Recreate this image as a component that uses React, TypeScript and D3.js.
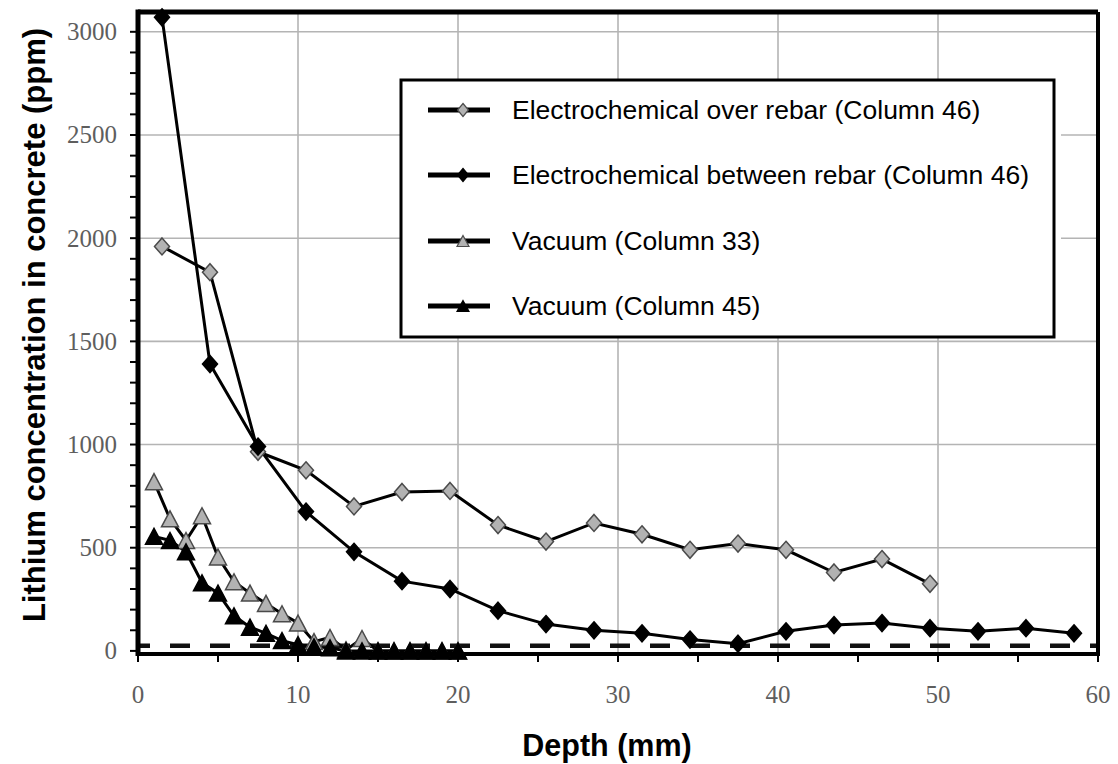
import React from "react";
import * as d3 from "d3";

const depthElectro = [1.5, 4.5, 7.5, 10.5, 13.5, 16.5, 19.5, 22.5, 25.5, 28.5, 31.5, 34.5, 37.5, 40.5, 43.5, 46.5, 49.5, 52.5, 55.5, 58.5];
const overRebar = [1960, 1835, 965, 875, 700, 770, 775, 610, 530, 620, 565, 490, 520, 490, 380, 445, 325];
const betweenRebar = [3070, 1390, 990, 675, 480, 338, 300, 195, 130, 100, 85, 55, 35, 95, 125, 135, 110, 95, 110, 85];

const depthVacuum = [1, 2, 3, 4, 5, 6, 7, 8, 9, 10, 11, 12, 13, 14, 15, 16, 17, 18, 19, 20];
const vacuum33 = [820, 640, 535, 655, 455, 335, 280, 230, 180, 135, 45, 65, 5, 60, 0, 0, 0, 0, 0, 0];
const vacuum45 = [555, 535, 480, 330, 280, 170, 115, 85, 50, 30, 20, 15, 0, 0, 0, 0, 0, 0, 0, 0];

const detectionLimit = 25;

const xTicks = [0, 10, 20, 30, 40, 50, 60];
const yTicks = [0, 500, 1000, 1500, 2000, 2500, 3000];

const legendLabels = [
  "Electrochemical over rebar (Column 46)",
  "Electrochemical between rebar (Column 46)",
  "Vacuum (Column 33)",
  "Vacuum (Column 45)",
];

const W = 1118;
const H = 764;
const L = 138, R = 1098, T = 12, B = 654;

const x = d3.scaleLinear().domain([0, 60]).range([L, R]);
const y = d3.scaleLinear().domain([-15, 3096]).range([B, T]);

const diamond = (cx: number, cy: number, hw: number, hh: number) =>
  `M${cx},${cy - hh}L${cx + hw},${cy}L${cx},${cy + hh}L${cx - hw},${cy}Z`;
const triangle = (cx: number, cy: number, hw: number, hh: number) =>
  `M${cx},${cy - hh}L${cx + hw},${cy + hh}L${cx - hw},${cy + hh}Z`;

const GRAY = "#b2b2b2";
const MSTROKE = "#4a4a4a";

export default function App() {
  const line = d3.line<[number, number]>().x((d) => x(d[0])).y((d) => y(d[1]));
  const pairs = (xs: number[], ys: number[]) => ys.map((v, i) => [xs[i], v] as [number, number]);

  const s1 = pairs(depthElectro, overRebar);
  const s2 = pairs(depthElectro, betweenRebar);
  const s3 = pairs(depthVacuum, vacuum33);
  const s4 = pairs(depthVacuum, vacuum45);

  const yMinor = d3.range(0, 3001, 100);
  const xMinor = d3.range(0, 61, 5);

  const legendY = [110, 175, 241, 306];

  return (
    <svg
      width={W}
      height={H}
      style={{ position: "absolute", left: 0, top: 0, background: "#fff" }}
      fontFamily="'Liberation Sans', Arial, sans-serif"
    >
      <rect x={0} y={0} width={W} height={H} fill="#fff" />
      {/* grid */}
      {xTicks.slice(1, -1).map((t) => (
        <line key={"gx" + t} x1={x(t)} x2={x(t)} y1={T} y2={B} stroke="#b4b4b4" strokeWidth={1.6} />
      ))}
      {yTicks.slice(1).map((t) => (
        <line key={"gy" + t} x1={L} x2={R} y1={y(t)} y2={y(t)} stroke="#b4b4b4" strokeWidth={1.6} />
      ))}

      {/* detection limit dashed line */}
      <line
        x1={L}
        x2={R}
        y1={y(detectionLimit)}
        y2={y(detectionLimit)}
        stroke="#111"
        strokeWidth={4.5}
        strokeDasharray="20 20"
        strokeDashoffset={8}
      />

      {/* legend box background */}
      <rect x={401} y={80} width={660} height={257} fill="#fff" />

      {/* series lines */}
      <path d={line(s1) || ""} fill="none" stroke="#000" strokeWidth={3} />
      <path d={line(s2) || ""} fill="none" stroke="#000" strokeWidth={3} />
      <path d={line(s3) || ""} fill="none" stroke="#000" strokeWidth={3} />
      <path d={line(s4) || ""} fill="none" stroke="#000" strokeWidth={3} />

      {/* markers */}
      {s1.map((d, i) => (
        <path key={"m1" + i} d={diamond(x(d[0]), y(d[1]), 7.5, 8.5)} fill={GRAY} stroke={MSTROKE} strokeWidth={1.5} />
      ))}
      {s2.map((d, i) => (
        <path key={"m2" + i} d={diamond(x(d[0]), y(d[1]), 7.5, 8.5)} fill="#000" stroke="#000" strokeWidth={1.5} />
      ))}
      {s3.map((d, i) => (
        <path key={"m3" + i} d={triangle(x(d[0]), y(d[1]), 8.5, 8)} fill={GRAY} stroke={MSTROKE} strokeWidth={1.5} />
      ))}
      {s4.map((d, i) => (
        <path key={"m4" + i} d={triangle(x(d[0]), y(d[1]), 8.5, 8)} fill="#000" stroke="#000" strokeWidth={1.5} />
      ))}

      {/* frame */}
      <line x1={L} x2={R} y1={T} y2={T} stroke="#000" strokeWidth={5} />
      <line x1={R} x2={R} y1={T} y2={B} stroke="#000" strokeWidth={4} />
      <line x1={L} x2={R + 2} y1={B} y2={B} stroke="#000" strokeWidth={4} />
      <line x1={L} x2={L} y1={T - 2.5} y2={B + 2} stroke="#000" strokeWidth={5} />

      {/* ticks */}
      {yMinor.map((t) => (
        <line key={"ty" + t} x1={L - 8} x2={L} y1={y(t)} y2={y(t)} stroke="#000" strokeWidth={2} />
      ))}
      {xMinor.map((t) => (
        <line key={"tx" + t} x1={x(t)} x2={x(t)} y1={B} y2={B + 8} stroke="#000" strokeWidth={2} />
      ))}

      {/* tick labels */}
      {yTicks.map((t) => (
        <text
          key={"ly" + t}
          x={117}
          y={y(t)}
          dy="0.34em"
          textAnchor="end"
          fontFamily="'Liberation Serif', 'Times New Roman', serif"
          fontSize={25}
          fill="#5e5e5e"
        >
          {t}
        </text>
      ))}
      {xTicks.map((t) => (
        <text
          key={"lx" + t}
          x={x(t)}
          y={694}
          dy="0.34em"
          textAnchor="middle"
          fontFamily="'Liberation Serif', 'Times New Roman', serif"
          fontSize={25}
          fill="#5e5e5e"
        >
          {t}
        </text>
      ))}

      {/* axis titles */}
      <text x={607} y={745} dy="0.35em" textAnchor="middle" fontWeight="bold" fontSize={30.5} fill="#000">
        Depth (mm)
      </text>
      <text
        transform={`translate(34,${325}) rotate(-90)`}
        dy="0.35em"
        textAnchor="middle"
        fontWeight="bold"
        fontSize={31}
        fill="#000"
      >
        Lithium concentration in concrete (ppm)
      </text>

      {/* legend */}
      <rect x={401} y={80} width={653} height={257} fill="none" stroke="#000" strokeWidth={3} />
      {legendLabels.map((lab, i) => {
        const cy = legendY[i];
        const cx = 463;
        let marker;
        if (i === 0) marker = <path d={diamond(cx, cy, 5.5, 6.5)} fill={GRAY} stroke={MSTROKE} strokeWidth={1.2} />;
        else if (i === 1) marker = <path d={diamond(cx, cy, 5.5, 6.5)} fill="#000" stroke="#000" strokeWidth={1.2} />;
        else if (i === 2) marker = <path d={triangle(cx, cy, 6, 5.5)} fill={GRAY} stroke={MSTROKE} strokeWidth={1.2} />;
        else marker = <path d={triangle(cx, cy, 6, 5.5)} fill="#000" stroke="#000" strokeWidth={1.2} />;
        return (
          <g key={"lg" + i}>
            <line x1={428} x2={490} y1={cy} y2={cy} stroke="#000" strokeWidth={5} />
            {marker}
            <text x={512} y={cy} dy="0.35em" fontSize={26.5} fill="#000">
              {lab}
            </text>
          </g>
        );
      })}
    </svg>
  );
}
